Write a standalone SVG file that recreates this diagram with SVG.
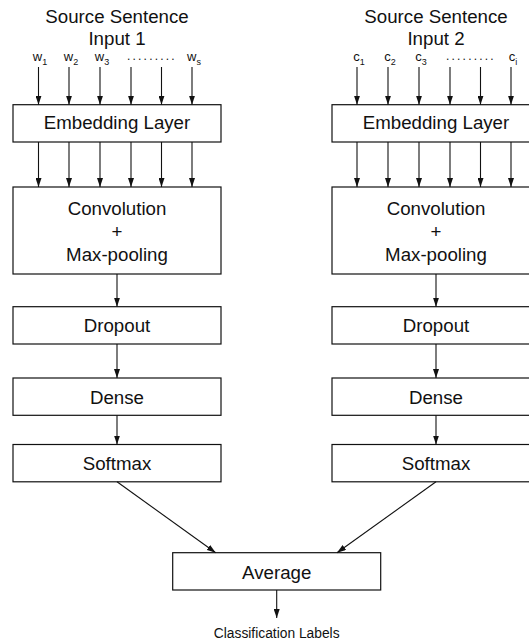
<svg xmlns="http://www.w3.org/2000/svg" width="529" height="640" viewBox="0 0 529 640">
<style>
text{font-family:"Liberation Sans",Arial,sans-serif;fill:#111}
.t{font-size:18.7px;text-anchor:middle}
.lbl{font-size:13px;text-anchor:middle}
.sub{font-size:9px}
.dots{font-size:12px;letter-spacing:2.2px}
.cl{font-size:13.8px;text-anchor:middle}
rect{fill:#fff;stroke:#111;stroke-width:1.2}
.c line{stroke:#111;stroke-width:1.1;marker-end:url(#ah)}
</style>
<defs>
<marker id="ah" markerUnits="userSpaceOnUse" markerWidth="9" markerHeight="6" refX="9" refY="3" orient="auto" viewBox="0 0 9 6">
<path d="M0,0 L9,3 L0,6 Z" fill="#111"/>
</marker>
</defs>
<rect width="529" height="640" style="fill:#fff;stroke:none"/>

<g id="input1">
<text class="t" x="117" y="23">Source Sentence</text>
<text class="t" x="117" y="44.5">Input 1</text>
<text class="lbl" x="40" y="60.5">w<tspan class="sub" dy="4.5">1</tspan></text>
<text class="lbl" x="71" y="60.5">w<tspan class="sub" dy="4.5">2</tspan></text>
<text class="lbl" x="102" y="60.5">w<tspan class="sub" dy="4.5">3</tspan></text>
<text class="dots" x="127" y="60">.........</text>
<text class="lbl" x="194" y="60.5">w<tspan class="sub" dy="4.5">s</tspan></text>
</g>
<g id="input2">
<text class="t" x="436" y="23">Source Sentence</text>
<text class="t" x="436" y="44.5">Input 2</text>
<text class="lbl" x="359" y="60.5">c<tspan class="sub" dy="4.5">1</tspan></text>
<text class="lbl" x="390" y="60.5">c<tspan class="sub" dy="4.5">2</tspan></text>
<text class="lbl" x="421" y="60.5">c<tspan class="sub" dy="4.5">3</tspan></text>
<text class="dots" x="446" y="60">.........</text>
<text class="lbl" x="513" y="60.5">c<tspan class="sub" dy="4.5">i</tspan></text>
</g>

<g id="embed1"><rect x="13" y="104.7" width="208" height="37.3"/><text class="t" x="117" y="129.3">Embedding Layer</text></g>
<g id="conv1"><rect x="13" y="187" width="208" height="87"/><text class="t" x="117" y="215">Convolution</text><text class="t" x="117" y="238">+</text><text class="t" x="117" y="261">Max-pooling</text></g>
<g id="dropout1"><rect x="13" y="306.7" width="208" height="37.3"/><text class="t" x="117" y="331.7">Dropout</text></g>
<g id="dense1"><rect x="13" y="378" width="208" height="37.3"/><text class="t" x="117" y="403.5">Dense</text></g>
<g id="softmax1"><rect x="13" y="444.5" width="208" height="37.3"/><text class="t" x="117" y="470">Softmax</text></g>

<g id="embed2"><rect x="332" y="104.7" width="208" height="37.3"/><text class="t" x="436" y="129.3">Embedding Layer</text></g>
<g id="conv2"><rect x="332" y="187" width="208" height="87"/><text class="t" x="436" y="215">Convolution</text><text class="t" x="436" y="238">+</text><text class="t" x="436" y="261">Max-pooling</text></g>
<g id="dropout2"><rect x="332" y="306.7" width="208" height="37.3"/><text class="t" x="436" y="331.7">Dropout</text></g>
<g id="dense2"><rect x="332" y="378" width="208" height="37.3"/><text class="t" x="436" y="403.5">Dense</text></g>
<g id="softmax2"><rect x="332" y="444.5" width="208" height="37.3"/><text class="t" x="436" y="470">Softmax</text></g>

<g id="average"><rect x="172.7" y="552.7" width="208" height="37.3"/><text class="t" x="276.7" y="579">Average</text></g>
<g id="output"><text class="cl" x="276.7" y="638">Classification Labels</text></g>

<g class="c" id="connectors">
<line x1="38.5" y1="67" x2="38.5" y2="104.7"/>
<line x1="69" y1="67" x2="69" y2="104.7"/>
<line x1="100" y1="67" x2="100" y2="104.7"/>
<line x1="131" y1="67" x2="131" y2="104.7"/>
<line x1="161.5" y1="67" x2="161.5" y2="104.7"/>
<line x1="192" y1="67" x2="192" y2="104.7"/>
<line x1="38.5" y1="142" x2="38.5" y2="187"/>
<line x1="69" y1="142" x2="69" y2="187"/>
<line x1="100" y1="142" x2="100" y2="187"/>
<line x1="131" y1="142" x2="131" y2="187"/>
<line x1="161.5" y1="142" x2="161.5" y2="187"/>
<line x1="192" y1="142" x2="192" y2="187"/>
<line x1="117" y1="274" x2="117" y2="306.7"/>
<line x1="117" y1="344" x2="117" y2="378"/>
<line x1="117" y1="415.3" x2="117" y2="444.5"/>

<line x1="357" y1="67" x2="357" y2="104.7"/>
<line x1="388" y1="67" x2="388" y2="104.7"/>
<line x1="419" y1="67" x2="419" y2="104.7"/>
<line x1="450" y1="67" x2="450" y2="104.7"/>
<line x1="480.5" y1="67" x2="480.5" y2="104.7"/>
<line x1="511" y1="67" x2="511" y2="104.7"/>
<line x1="357" y1="142" x2="357" y2="187"/>
<line x1="388" y1="142" x2="388" y2="187"/>
<line x1="419" y1="142" x2="419" y2="187"/>
<line x1="450" y1="142" x2="450" y2="187"/>
<line x1="480.5" y1="142" x2="480.5" y2="187"/>
<line x1="511" y1="142" x2="511" y2="187"/>
<line x1="436" y1="274" x2="436" y2="306.7"/>
<line x1="436" y1="344" x2="436" y2="378"/>
<line x1="436" y1="415.3" x2="436" y2="444.5"/>

<line x1="117" y1="481.8" x2="215.7" y2="552.7"/>
<line x1="436" y1="481.8" x2="337" y2="552.7"/>
<line x1="276.7" y1="590" x2="276.7" y2="618"/>
</g>
</svg>
